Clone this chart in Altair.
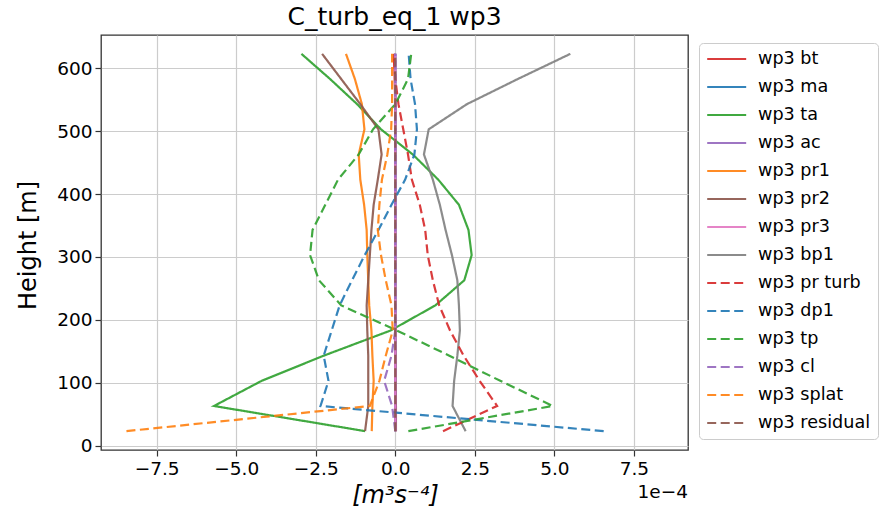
import altair as alt
import pandas as pd

# ---- data (values in units of 1e-4 m^3 s^-4) ----
heights = [23, 63, 103, 143, 183, 223, 263, 303, 343, 383, 423, 463, 503, 543, 583, 623]

series_names = ["wp3 bt", "wp3 ma", "wp3 ta", "wp3 ac", "wp3 pr1", "wp3 pr2", "wp3 pr3",
                "wp3 bp1", "wp3 pr turb", "wp3 dp1", "wp3 tp", "wp3 cl", "wp3 splat", "wp3 residual"]

wp3_bt = [0.02, 0.02, 0.01, 0.01, 0.0, 0.0, 0.0, 0.0, 0.0, 0.0, 0.0, 0.0, 0.0, 0.0, -0.02, -0.04]
wp3_ma = [0.0, 0.0, 0.0, 0.0, 0.0, 0.0, 0.0, 0.0, 0.0, 0.0, 0.0, 0.0, 0.0, 0.0, 0.0, 0.0]
wp3_ta = [-0.95, -5.7, -4.2, -2.25, -0.15, 1.26, 2.17, 2.4, 2.3, 2.0, 1.35, 0.55, -0.45, -1.2, -2.05, -2.95]
wp3_ac = [0.0, 0.0, 0.0, 0.0, 0.0, 0.0, 0.0, 0.0, 0.0, 0.0, 0.0, 0.0, 0.0, 0.0, 0.0, 0.0]
wp3_pr1 = [-0.74, -0.72, -0.68, -0.72, -0.75, -0.82, -0.85, -0.88, -0.9, -0.98, -1.1, -1.15, -0.97, -1.05, -1.27, -1.55]
wp3_pr2 = [-0.95, -0.85, -0.85, -0.85, -0.88, -0.9, -0.85, -0.8, -0.75, -0.68, -0.55, -0.43, -0.53, -1.1, -1.7, -2.3]
wp3_pr3 = [0.0, 0.0, 0.0, 0.0, 0.0, 0.0, 0.0, 0.0, 0.0, 0.0, 0.0, 0.0, 0.0, 0.0, 0.0, 0.0]
wp3_bp1 = [2.21, 1.8, 1.85, 1.95, 2.03, 2.0, 1.95, 1.78, 1.58, 1.4, 1.18, 0.9, 1.05, 2.25, 3.85, 5.5]
wp3_pr_turb = [1.5, 3.2, 2.65, 2.15, 1.72, 1.38, 1.18, 1.02, 0.94, 0.77, 0.52, 0.4, 0.25, 0.1, 0.0, -0.05]
wp3_dp1 = [6.55, -2.35, -2.1, -2.25, -2.0, -1.75, -1.36, -0.96, -0.53, -0.12, 0.31, 0.6, 0.68, 0.62, 0.48, 0.42]
wp3_tp = [0.41, 4.95, 3.3, 1.7, 0.05, -1.7, -2.4, -2.68, -2.6, -2.2, -1.8, -1.15, -0.7, 0.0, 0.4, 0.5]
wp3_cl = [0.0, -0.1, -0.35, -0.12, 0.0, 0.0, 0.0, 0.0, 0.0, 0.0, 0.0, 0.0, 0.0, 0.0, 0.0, 0.0]
wp3_splat = [-8.45, -0.8, -0.5, -0.3, -0.08, -0.12, -0.3, -0.45, -0.55, -0.5, -0.42, -0.25, -0.13, -0.1, -0.1, -0.1]
wp3_residual = [0.0, 0.0, 0.0, 0.0, 0.0, 0.0, 0.0, 0.0, 0.0, 0.0, 0.0, 0.0, 0.0, 0.0, 0.0, 0.0]

x_ticks = [-7.5, -5.0, -2.5, 0.0, 2.5, 5.0, 7.5]
y_ticks = [0, 100, 200, 300, 400, 500, 600]
offset_label = ["1e\u22124"]

# ---- styles ----
colors = ["#d62728", "#1f77b4", "#2ca02c", "#9467bd", "#ff7f0e", "#8c564b", "#e377c2",
          "#7f7f7f", "#d62728", "#1f77b4", "#2ca02c", "#9467bd", "#ff7f0e", "#8c564b"]
solid = [1, 0]
dashed = [9, 4.5]
dashes = [solid] * 8 + [dashed] * 6

all_series = [wp3_bt, wp3_ma, wp3_ta, wp3_ac, wp3_pr1, wp3_pr2, wp3_pr3, wp3_bp1,
              wp3_pr_turb, wp3_dp1, wp3_tp, wp3_cl, wp3_splat, wp3_residual]

rows = []
for i, (name, vals) in enumerate(zip(series_names, all_series)):
    for h, v in zip(heights, vals):
        rows.append({"series": name, "idx": i, "height": h, "value": v})
df = pd.DataFrame(rows)

FONT = "DejaVu Sans"
W, H = 587, 415

legend = alt.Legend(
    title=None, orient="none", legendX=598, legendY=8,
    symbolType="M-1,0H4", symbolSize=243, symbolStrokeWidth=2.2, labelOffset=34,
    labelFontSize=17.6, labelFont=FONT, labelColor="black", rowPadding=10, padding=7,
    strokeColor="#cccccc", fillColor="white", cornerRadius=4, labelLimit=300,
)

lines = alt.Chart(df).mark_line(strokeWidth=2.2, clip=True, opacity=0.9).encode(
    x=alt.X("value:Q",
            scale=alt.Scale(domain=[-9.25, 9.2], nice=False, zero=False),
            axis=alt.Axis(values=x_ticks, format=".1f", title="[m\u00b3s\u207b\u2074]",
                          titleFontStyle="italic", titleX=294, titleY=45,
                          titleBaseline="middle")),
    y=alt.Y("height:Q",
            scale=alt.Scale(domain=[-7, 653], nice=False, zero=False),
            axis=alt.Axis(values=y_ticks, title="Height [m]", titleX=-73, titleY=210,
                          titleAngle=-90, titleBaseline="middle", titleAlign="center")),
    color=alt.Color("series:N", scale=alt.Scale(domain=series_names, range=colors),
                    sort=series_names, legend=legend),
    strokeDash=alt.StrokeDash("series:N", scale=alt.Scale(domain=series_names, range=dashes),
                              sort=series_names, legend=legend),
    order=alt.Order("height:Q"),
)

offset_txt = alt.Chart(pd.DataFrame({"t": offset_label})).mark_text(
    font=FONT, fontSize=18.5, align="right", baseline="middle", color="black"
).encode(text="t:N", x=alt.value(W), y=alt.value(H + 42))

chart = alt.layer(lines, offset_txt).properties(
    width=W, height=H,
    background="white",
    title=alt.Title("C_turb_eq_1 wp3", fontSize=25, font=FONT, fontWeight="normal",
                    color="black", anchor="middle", offset=5),
    autosize=alt.AutoSizeParams(type="none"),
    padding={"left": 101, "top": 35, "right": 884 - 101 - W, "bottom": 517 - 35 - H},
).configure_view(
    stroke="#333333", strokeWidth=1.3
).configure_axis(
    grid=True, gridColor="#cccccc", gridWidth=1.2, domain=False,
    tickColor="#333333", tickSize=6, tickWidth=1.2,
    labelFont=FONT, labelFontSize=18.5, labelColor="black", labelPadding=3,
    titleFont=FONT, titleFontSize=24, titleColor="black", titleFontWeight="normal",
)

chart.save("out.html", embed_options={"renderer": "svg", "actions": False})
